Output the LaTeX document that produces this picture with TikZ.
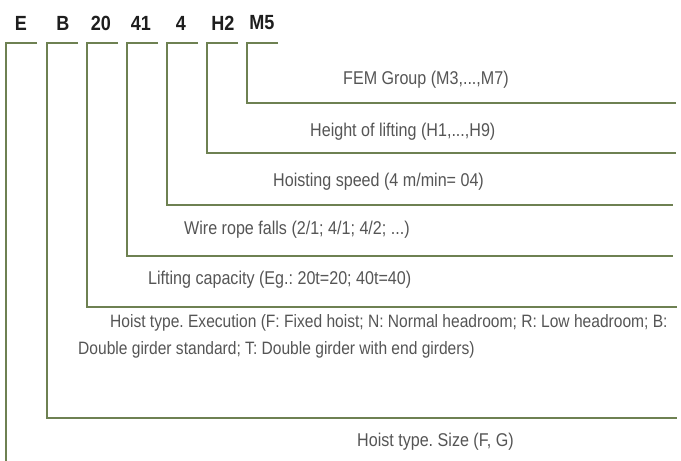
\documentclass[tikz,border=0pt]{standalone}
\usepackage{fontspec}
\setmainfont[FakeStretch=0.87]{Liberation Sans}
\newfontfamily\titlefont[FakeStretch=0.88]{Liberation Sans}
\definecolor{lineol}{RGB}{110,129,82}
\definecolor{txtgrey}{RGB}{85,85,85}
\definecolor{ttl}{RGB}{30,30,30}
\begin{document}
\frenchspacing
\begin{tikzpicture}[x=1pt,y=-1pt,
  code/.style={font=\titlefont\fontsize{20.5}{22}\selectfont\bfseries,text=ttl,inner sep=0pt,anchor=center},
  desc/.style={font=\fontsize{18.5}{27}\selectfont,text=txtgrey,inner sep=0pt,anchor=west},
  lead/.style={draw=lineol,line width=1.4pt,line join=miter},
  ]
\useasboundingbox[fill=white] (0,0) rectangle (681,461);
% title codes
\node[code] (tE) at (21,23) {E};
\node[code] (tB) at (63,23) {B};
\node[code] (t20) at (101,23) {20};
\node[code] (t41) at (141,23) {41};
\node[code] (t4) at (181,23) {4};
\node[code] (tH) at (223,23) {H2};
\node[code] (tM) at (262,23) {M5};
% descriptions
\node[desc] (dM) at (343,80) {FEM Group (M3,...,M7)};
\node[desc] (dH) at (310,132) {Height of lifting (H1,...,H9)};
\node[desc] (d4) at (273,182) {Hoisting speed (4 m/min= 04)};
\node[desc] (d41) at (184,230) {Wire rope falls (2/1; 4/1; 4/2; ...)};
\node[desc] (d20) at (148,280) {Lifting capacity (Eg.: 20t=20; 40t=40)};
\node[desc,font=\fontsize{17.9}{27.5}\selectfont,anchor=north west,align=left] (dB) at (78,314) {\hspace*{32pt}Hoist type. Execution (F: Fixed hoist; N: Normal headroom; R: Low headroom; B:\\Double girder standard; T: Double girder with end girders)};
\node[desc] (dE) at (357,442) {Hoist type. Size (F, G)};
% leader coordinates
\coordinate (aE) at (37,43);  \coordinate (cE) at (6,43);  \coordinate (eE) at (6,461);
\coordinate (aB) at (78,43);  \coordinate (cB) at (47,43); \coordinate (eB) at (677,418);
\coordinate (a20) at (118,43); \coordinate (c20) at (87,43); \coordinate (e20) at (677,307);
\coordinate (a41) at (158,43); \coordinate (c41) at (127,43); \coordinate (e41) at (673,256);
\coordinate (a4) at (198,43); \coordinate (c4) at (167,43); \coordinate (e4) at (673,205);
\coordinate (aH) at (238,43); \coordinate (cH) at (207,43); \coordinate (eH) at (676,153);
\coordinate (aM) at (278,43); \coordinate (cM) at (247,43); \coordinate (eM) at (676,103);
% leaders
\draw[lead] (aE) -- (cE) -- (eE);
\draw[lead] (aB) -- (cB) |- (eB);
\draw[lead] (a20) -- (c20) |- (e20);
\draw[lead] (a41) -- (c41) |- (e41);
\draw[lead] (a4) -- (c4) |- (e4);
\draw[lead] (aH) -- (cH) |- (eH);
\draw[lead] (aM) -- (cM) |- (eM);
\end{tikzpicture}
\end{document}
